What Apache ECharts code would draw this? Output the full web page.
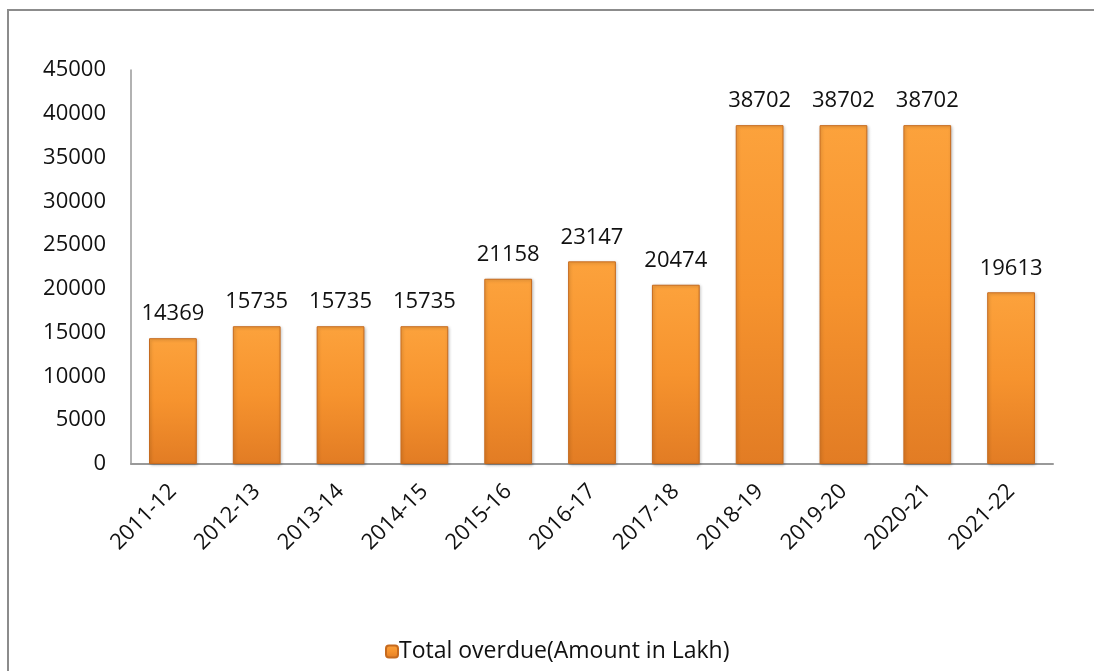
<!DOCTYPE html>
<html>
<head>
<meta charset="utf-8">
<script src="https://cdn.jsdelivr.net/npm/echarts@6/dist/echarts.min.js"></script>
<style>
  html, body { margin: 0; padding: 0; background: #fff; }
  #chart { width: 1094px; height: 671px; }
</style>
</head>
<body>
<div id="chart"></div>
<script>
const years = ['2011-12', '2012-13', '2013-14', '2014-15', '2015-16', '2016-17', '2017-18', '2018-19', '2019-20', '2020-21', '2021-22']
const overdue = [14369, 15735, 15735, 15735, 21158, 23147, 20474, 38702, 38702, 38702, 19613]
const seriesName = 'Total overdue(Amount in Lakh)'

const font = 'Open Sans'

const chart = echarts.init(document.getElementById('chart'))

const barColor = new echarts.graphic.LinearGradient(0, 0, 0, 1, [
  { offset: 0, color: '#fca23c' },
  { offset: 0.5, color: '#f6932e' },
  { offset: 1, color: '#e27c24' }
])

chart.setOption({
  backgroundColor: '#fff',
  animation: false,
  textStyle: { fontFamily: font },
  graphic: [{
    type: 'rect',
    shape: { x: 8, y: 10, width: 1100, height: 680 },
    style: { fill: 'none', stroke: '#8c8c8c', lineWidth: 2 }
  }],
  grid: { left: 131, right: 41, top: 70, bottom: 207 },
  legend: {
    top: 635,
    left: 380,
    itemWidth: 12,
    itemHeight: 12,
    itemGap: 4,
    textStyle: { fontSize: 23, color: '#111', fontFamily: font, padding: [0, 0, 0, -4] },
    data: [seriesName]
  },
  xAxis: {
    type: 'category',
    data: years,
    axisLine: { lineStyle: { color: '#999', width: 2 } },
    axisTick: { show: false },
    axisLabel: { rotate: 45, fontSize: 22, color: '#111', margin: 24, fontFamily: font }
  },
  yAxis: {
    type: 'value',
    min: 0,
    max: 45000,
    interval: 5000,
    axisLine: { show: true, lineStyle: { color: '#999', width: 1.5 } },
    axisTick: { show: false },
    splitLine: { show: false },
    axisLabel: {
      fontSize: 22,
      color: '#111',
      margin: 25,
      fontFamily: font,
      formatter: (v) => String(v)
    }
  },
  series: [{
    name: seriesName,
    type: 'bar',
    data: overdue,
    barWidth: '57%',
    itemStyle: {
      color: barColor,
      borderColor: '#c66a1e',
      borderWidth: 1,
      shadowColor: 'rgba(0,0,0,0.25)',
      shadowBlur: 3,
      shadowOffsetX: 1,
      shadowOffsetY: 1
    },
    label: {
      show: true,
      position: 'top',
      distance: 13,
      fontSize: 22,
      color: '#111',
      fontFamily: font
    }
  }]
})
</script>
</body>
</html>
